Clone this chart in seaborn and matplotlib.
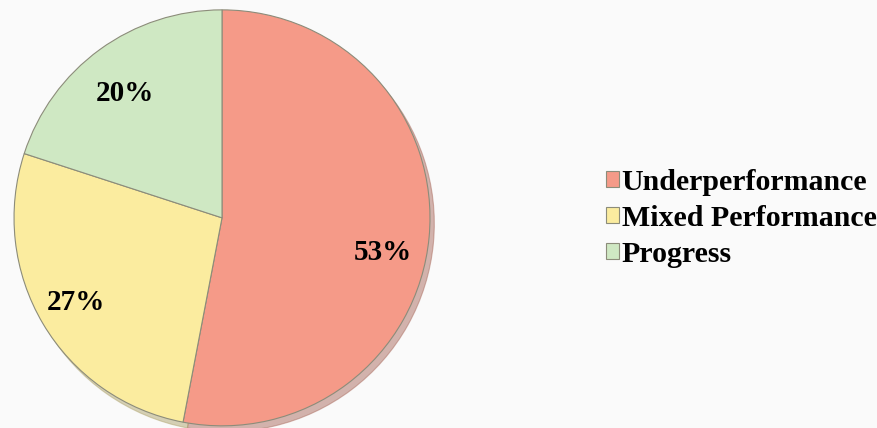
import matplotlib
matplotlib.use("Agg")
import numpy as np
import matplotlib.pyplot as plt
import seaborn as sns

# chart data
categories = ["Underperformance", "Mixed Performance", "Progress"]
shares = [53, 27, 20]
slice_colors = ["#F59A88", "#FBEC9F", "#CFE8C3"]

sns.set_theme(style="white")
plt.rcParams["font.family"] = ["Liberation Serif", "DejaVu Serif"]
plt.rcParams["text.color"] = "black"

bg = "#FAFAFA"
fig = plt.figure(figsize=(8.77, 4.28), dpi=100, facecolor=bg)
ax = fig.add_axes([0.016, 0.005, 0.4743, 0.972])
ax.set_facecolor(bg)

wedges, texts, autotexts = ax.pie(
    shares,
    colors=slice_colors,
    startangle=90,
    counterclock=False,
    autopct=lambda p: f"{round(p)}%",
    pctdistance=0.79,
    shadow={"ox": 0.015, "oy": -0.02, "shade": 0.3},
    wedgeprops={"edgecolor": "#8C8C7A", "linewidth": 0.8},
    textprops={"fontsize": 21, "fontweight": "bold", "color": "black"},
)

# the labels sit a little off the slice middles, like the original
label_angles = [-12, 210, 128]
label_dist = [0.79, 0.81, 0.76]
for t, a, d in zip(autotexts, label_angles, label_dist):
    t.set_position((d * np.cos(np.radians(a)), d * np.sin(np.radians(a))))

ax.set_xlim(-1, 1)
ax.set_ylim(-1, 1)
ax.set_aspect("equal")
ax.axis("off")

leg = fig.legend(
    wedges, categories,
    loc="center left", bbox_to_anchor=(0.691, 0.49),
    frameon=False, borderaxespad=0.0, borderpad=0.0,
    prop={"size": 21.5, "weight": "bold"},
    handlelength=0.42, handleheight=0.42,
    handletextpad=0.1, labelspacing=0.3,
)
for t in leg.get_texts():
    t.set_color("black")

fig.savefig("out.png", dpi=100, facecolor=bg)
